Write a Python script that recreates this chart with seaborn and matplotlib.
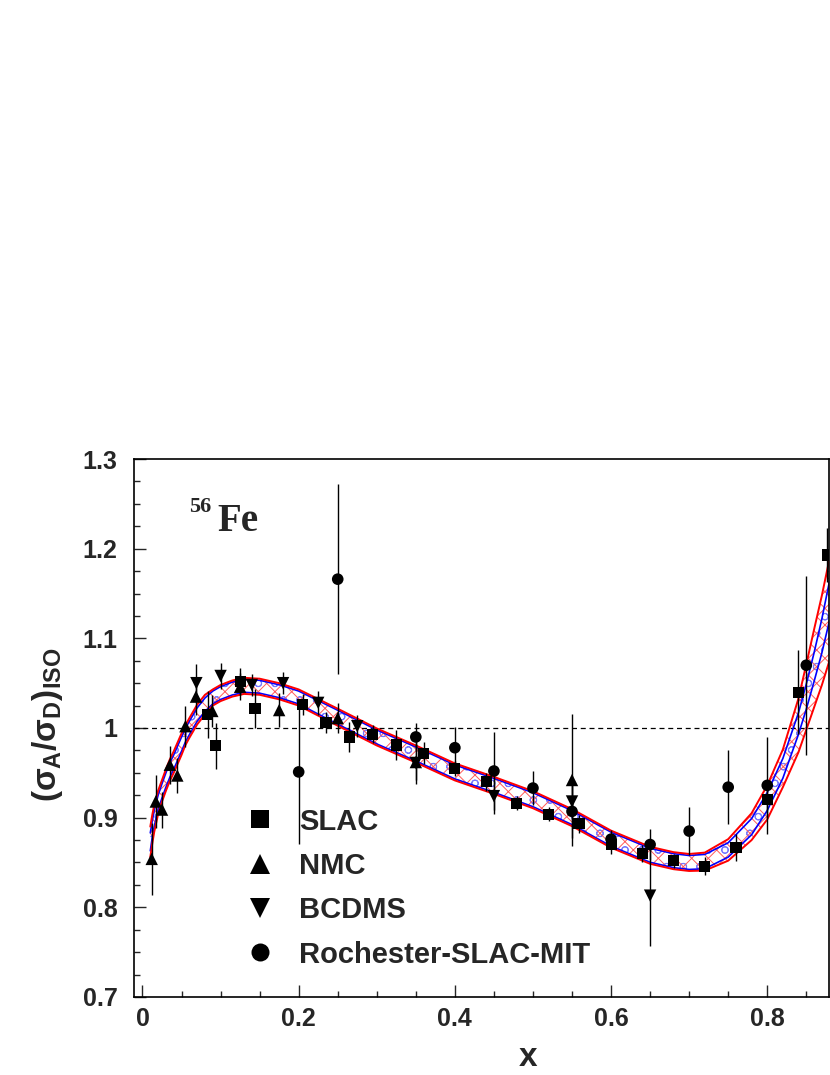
import numpy as np
import pandas as pd
import matplotlib
matplotlib.use("Agg")
import matplotlib.pyplot as plt
import seaborn as sns

# ---------------- data ----------------
slac_x = [0.0835, 0.0937, 0.125, 0.144, 0.205, 0.235, 0.265, 0.295, 0.325, 0.36, 0.40, 0.44,
          0.479, 0.52, 0.559, 0.60, 0.64, 0.68, 0.72, 0.76, 0.80, 0.84, 0.877]
slac_y = [1.015, 0.980, 1.052, 1.022, 1.026, 1.006, 0.990, 0.993, 0.981, 0.972, 0.955, 0.940,
          0.916, 0.904, 0.893, 0.870, 0.860, 0.852, 0.846, 0.867, 0.920, 1.040, 1.193]
slac_err = [0.026, 0.026, 0.015, 0.022, 0.012, 0.012, 0.017, 0.010, 0.017, 0.012, 0.008, 0.010,
            0.008, 0.008, 0.010, 0.010, 0.010, 0.008, 0.010, 0.015, 0.020, 0.047, 0.030]

nmc_x = [0.0118, 0.017, 0.025, 0.035, 0.0446, 0.055, 0.0685, 0.0894, 0.125, 0.175, 0.25, 0.35, 0.55]
nmc_y = [0.854, 0.918, 0.909, 0.959, 0.947, 1.002, 1.035, 1.019, 1.046, 1.020, 1.011, 0.962, 0.942]
nmc_err = [0.040, 0.030, 0.020, 0.021, 0.019, 0.023, 0.020, 0.018, 0.015, 0.019, 0.017, 0.020, 0.074]

bcdms_x = [0.069, 0.100, 0.140, 0.180, 0.225, 0.275, 0.35, 0.45, 0.55, 0.65]
bcdms_y = [1.050, 1.058, 1.048, 1.050, 1.028, 1.002, 0.961, 0.924, 0.918, 0.813]
bcdms_err = [0.021, 0.015, 0.012, 0.012, 0.013, 0.012, 0.024, 0.020, 0.020, 0.056]

rsm_x = [0.20, 0.25, 0.35, 0.40, 0.45, 0.50, 0.55, 0.60, 0.65, 0.70, 0.75, 0.80, 0.85]
rsm_y = [0.951, 1.166, 0.990, 0.978, 0.952, 0.933, 0.907, 0.876, 0.870, 0.885, 0.934, 0.936, 1.070]
rsm_err = [0.080, 0.106, 0.016, 0.023, 0.044, 0.019, 0.030, 0.010, 0.017, 0.027, 0.041, 0.054, 0.100]

experiments = ["SLAC", "NMC", "BCDMS", "Rochester-SLAC-MIT"]

# fit band (central curve, red outer band half-widths, blue inner band half-width)
x_band = [0.010, 0.0125, 0.015, 0.02, 0.025, 0.03, 0.035, 0.04, 0.045, 0.05, 0.055, 0.06, 0.07,
          0.08, 0.09, 0.10, 0.115, 0.13, 0.15, 0.175, 0.20, 0.25, 0.30, 0.35, 0.40, 0.45, 0.50,
          0.55, 0.60, 0.65, 0.68, 0.70, 0.72, 0.75, 0.78, 0.80, 0.82, 0.84, 0.85, 0.86, 0.87, 0.88]
band_mid = [0.873, 0.887, 0.899, 0.917, 0.930, 0.942, 0.953, 0.962, 0.972, 0.982, 0.992, 1.000, 1.015,
            1.026, 1.034, 1.039, 1.044, 1.047, 1.046, 1.041, 1.034, 1.012, 0.990, 0.971, 0.951, 0.936, 0.920,
            0.900, 0.876, 0.858, 0.852, 0.850, 0.851, 0.864, 0.890, 0.918, 0.955, 1.005, 1.035, 1.068, 1.103, 1.143]
red_up = [0.017, 0.016, 0.015, 0.013, 0.012, 0.012, 0.012, 0.012, 0.012, 0.012, 0.011, 0.011, 0.011,
          0.011, 0.009, 0.009, 0.009, 0.009, 0.009, 0.009, 0.009, 0.0095, 0.0095, 0.0095, 0.0095, 0.0095, 0.0095,
          0.0095, 0.0095, 0.0095, 0.0095, 0.0095, 0.010, 0.012, 0.015, 0.018, 0.021, 0.028, 0.036, 0.042, 0.045, 0.047]
red_dn = [0.017, 0.016, 0.015, 0.013, 0.012, 0.012, 0.012, 0.012, 0.012, 0.012, 0.011, 0.011, 0.011,
          0.011, 0.009, 0.009, 0.009, 0.009, 0.009, 0.009, 0.009, 0.0095, 0.0095, 0.0095, 0.0095, 0.0095, 0.0095,
          0.0095, 0.0095, 0.0095, 0.0095, 0.0095, 0.010, 0.012, 0.015, 0.020, 0.021, 0.032, 0.037, 0.045, 0.055, 0.067]
blue_hw = [0.010, 0.009, 0.009, 0.008, 0.008, 0.008, 0.008, 0.008, 0.008, 0.008, 0.0075, 0.0075, 0.0075,
           0.0075, 0.0072, 0.0072, 0.0072, 0.0072, 0.0072, 0.0072, 0.0072, 0.0078, 0.0078, 0.0078, 0.0078, 0.0078, 0.0078,
           0.0078, 0.0078, 0.0078, 0.0078, 0.0078, 0.008, 0.008, 0.009, 0.010, 0.011, 0.012, 0.014, 0.016, 0.019, 0.022]

x_ticks = [0, 0.2, 0.4, 0.6, 0.8]
x_ticklabels = ["0", "0.2", "0.4", "0.6", "0.8"]
y_ticks = [0.7, 0.8, 0.9, 1.0, 1.1, 1.2, 1.3]
y_ticklabels = ["0.7", "0.8", "0.9", "1", "1.1", "1.2", "1.3"]

# ---------------- style ----------------
sns.set_theme(style="ticks")
plt.rcParams["font.family"] = ["Liberation Sans", "DejaVu Sans"]
plt.rcParams["font.weight"] = "bold"
plt.rcParams["mathtext.fontset"] = "custom"
plt.rcParams["mathtext.rm"] = "Liberation Sans:bold"
plt.rcParams["mathtext.bf"] = "Liberation Sans:bold"
plt.rcParams["mathtext.it"] = "Liberation Sans"
plt.rcParams["hatch.linewidth"] = 0.7

fig = plt.figure(figsize=(8.3, 10.75), dpi=100)
ax = fig.add_axes([0.1618, 0.0726, 0.8373, 0.5004])

xb = np.array(x_band)
mid = np.array(band_mid)
r_hi = mid + np.array(red_up)
r_lo = mid - np.array(red_dn)
b_hi = mid + np.array(blue_hw)
b_lo = mid - np.array(blue_hw)

ax.fill_between(xb, b_lo, b_hi, facecolor="none", edgecolor="#7878ff", hatch="o", linewidth=0, zorder=1)
ax.fill_between(xb, r_lo, r_hi, facecolor="none", edgecolor="#ff5a5a", hatch="xx", linewidth=0, zorder=1)
ax.plot(xb, b_hi, color="blue", lw=1.2, zorder=2)
ax.plot(xb, b_lo, color="blue", lw=1.2, zorder=2)
ax.plot(xb, r_hi, color="red", lw=1.4, zorder=2)
ax.plot(xb, r_lo, color="red", lw=1.4, zorder=2)

ax.axhline(1.0, color="black", lw=0.9, ls=(0, (4, 3)), zorder=1)

# error bars
for xs, ys, es in [(slac_x, slac_y, slac_err), (nmc_x, nmc_y, nmc_err),
                   (bcdms_x, bcdms_y, bcdms_err), (rsm_x, rsm_y, rsm_err)]:
    ax.errorbar(xs, ys, yerr=es, fmt="none", ecolor="black", elinewidth=1.0, capsize=0, zorder=3)

df = pd.concat([
    pd.DataFrame({"x": slac_x, "y": slac_y, "exp": "SLAC"}),
    pd.DataFrame({"x": nmc_x, "y": nmc_y, "exp": "NMC"}),
    pd.DataFrame({"x": bcdms_x, "y": bcdms_y, "exp": "BCDMS"}),
    pd.DataFrame({"x": rsm_x, "y": rsm_y, "exp": "Rochester-SLAC-MIT"}),
], ignore_index=True)

sns.scatterplot(data=df, x="x", y="y", style="exp", size="exp",
                style_order=experiments, size_order=experiments,
                markers={"SLAC": "s", "NMC": "^", "BCDMS": "v", "Rochester-SLAC-MIT": "o"},
                sizes={"SLAC": 64, "NMC": 80, "BCDMS": 80, "Rochester-SLAC-MIT": 70},
                color="black", edgecolor="black", linewidth=0, ax=ax, zorder=4)

handles, labels = ax.get_legend_handles_labels()
leg = ax.legend(handles, labels, loc="upper left", bbox_to_anchor=(0.16, 0.352),
                frameon=False, borderpad=0, borderaxespad=0, handlelength=1.0,
                handletextpad=0.85, labelspacing=0.56, markerscale=1.55,
                prop={"family": "Liberation Sans", "weight": "bold", "size": 21})

ax.set_xlim(-0.0105, 0.8794)
ax.set_ylim(0.7, 1.3)
ax.set_xticks(x_ticks)
ax.set_xticklabels(x_ticklabels)
ax.set_yticks(y_ticks)
ax.set_yticklabels(y_ticklabels)
ax.xaxis.set_minor_locator(matplotlib.ticker.MultipleLocator(0.05))
ax.yaxis.set_minor_locator(matplotlib.ticker.MultipleLocator(0.025))
ax.tick_params(which="major", direction="in", length=8.5, width=1.0, labelsize=18,
               top=False, right=False)
ax.tick_params(which="minor", direction="in", length=4.3, width=1.0, top=False, right=False)
ax.tick_params(axis="y", which="major", pad=12)
ax.tick_params(axis="x", which="major", pad=7)
for lab in ax.get_xticklabels() + ax.get_yticklabels():
    lab.set_fontweight("bold")
for s in ax.spines.values():
    s.set_linewidth(1.2)
    s.set_color("black")

ax.set_xlabel("x", fontsize=24, fontweight="bold")
ax.xaxis.label.set_va("center")
ax.xaxis.set_label_coords(0.567, -0.112)
ax.set_ylabel(r"$(\sigma_{\mathbf{A}}/\sigma_{\mathbf{D}})_{\mathbf{ISO}}$", fontsize=24)
ax.yaxis.label.set_va("center")
ax.yaxis.set_label_coords(-0.125, 0.506)

ax.text(0.079, 0.902, "56", transform=ax.transAxes, fontsize=16, fontweight="bold",
        family="Liberation Serif", va="baseline")
ax.text(0.1194, 0.866, "Fe", transform=ax.transAxes, fontsize=28, fontweight="bold",
        family="Liberation Serif", va="baseline")

fig.savefig("out.png", dpi=100)
